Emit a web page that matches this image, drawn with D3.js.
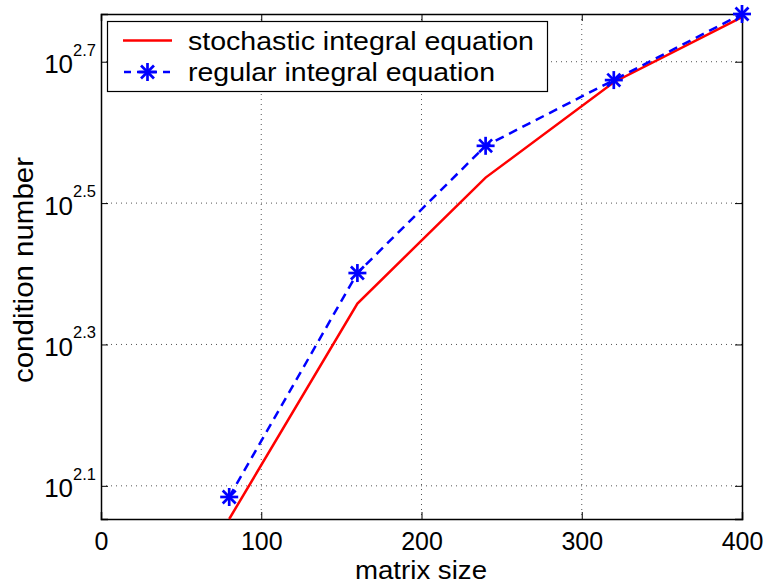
<!DOCTYPE html>
<html>
<head>
<meta charset="utf-8">
<script src="https://cdn.jsdelivr.net/npm/d3@7"></script>
<style>
  body { margin: 0; background: #fff; }
  svg { display: block; font-family: "Liberation Sans", Arial, sans-serif; }
</style>
</head>
<body>
<svg id="chart" width="767" height="585"></svg>
<script>
/* data */
const matrixSizes = [80, 160, 240, 320, 400];
const stochasticCond = [113.0, 228.0, 343.6, 468.8, 579.4];
const regularCond = [121.4, 251.8, 381.1, 472.1, 585.5];
const xTicks = [0, 100, 200, 300, 400];
const yTickExps = [2.1, 2.3, 2.5, 2.7];
const seriesNames = ['stochastic integral equation', 'regular integral equation'];

const W = 767, H = 585;
const margin = { top: 14, right: 25, bottom: 66, left: 101 };
const iw = W - margin.left - margin.right;
const ih = H - margin.top - margin.bottom;

const svg = d3.select('#chart');
const g = svg.append('g').attr('transform', `translate(${margin.left},${margin.top})`);

const x = d3.scaleLinear().domain([0, 400]).range([0, iw]);
const yExtent = d3.extent(stochasticCond.concat(regularCond));
const y = d3.scaleLog().domain(yExtent).range([ih, 0]);

/* Grid lines */
const grid = g.append('g').attr('class', 'grid-lines');
grid.selectAll('.x-grid').data(xTicks.slice(1, -1)).join('line')
    .attr('x1', d => x(d)).attr('x2', d => x(d))
    .attr('y1', 0).attr('y2', ih);
grid.selectAll('.y-grid').data(yTickExps).join('line')
    .attr('x1', 0).attr('x2', iw)
    .attr('y1', d => y(Math.pow(10, d))).attr('y2', d => y(Math.pow(10, d)));
grid.selectAll('line')
    .attr('stroke', '#555')
    .attr('stroke-width', 1)
    .attr('stroke-dasharray', '1,4');

/* Axes, ticks inside on all sides */
const tk = 7;
const yTickVals = yTickExps.map(e => Math.pow(10, e));
const xBottom = g.append('g').attr('transform', `translate(0,${ih})`)
    .call(d3.axisBottom(x).tickValues(xTicks).tickSize(-tk).tickPadding(13));
const xTop = g.append('g')
    .call(d3.axisTop(x).tickValues(xTicks).tickSize(-tk).tickFormat(''));
const yLeft = g.append('g')
    .call(d3.axisLeft(y).tickValues(yTickVals).tickSize(-tk).tickFormat(''));
const yRight = g.append('g').attr('transform', `translate(${iw},0)`)
    .call(d3.axisRight(y).tickValues(yTickVals).tickSize(-tk).tickFormat(''));

for (const ax of [xBottom, xTop, yLeft, yRight]) {
  ax.select('.domain').attr('stroke', '#000').attr('stroke-width', 1.5);
  ax.selectAll('.tick line').attr('stroke', '#000').attr('stroke-width', 1);
}
xBottom.selectAll('.tick text')
    .attr('font-size', 25)
    .attr('font-family', '"Liberation Sans", Arial, sans-serif')
    .attr('fill', '#000');

/* Y tick labels: 10^exp */
const yLab = g.append('g').attr('class', 'y-tick-labels');
yTickExps.forEach(e => {
  const t = yLab.append('text')
      .attr('x', -5)
      .attr('y', y(Math.pow(10, e)) + 11.5)
      .attr('text-anchor', 'end')
      .attr('fill', '#000');
  t.append('tspan').attr('font-size', 26).text('10');
  t.append('tspan').attr('font-size', 16.5).attr('dy', -17.5).text(e.toFixed(1));
});

/* Axis labels */
svg.append('text')
    .attr('x', 421)
    .attr('y', 578.5)
    .attr('text-anchor', 'middle')
    .attr('font-size', 25)
    .attr('textLength', 132)
    .attr('lengthAdjust', 'spacingAndGlyphs')
    .text('matrix size');
svg.append('text')
    .attr('transform', 'translate(33,270) rotate(-90)')
    .attr('text-anchor', 'middle')
    .attr('font-size', 27)
    .attr('textLength', 226)
    .attr('lengthAdjust', 'spacingAndGlyphs')
    .text('condition number');

/* Data lines */
const line = d3.line().x(d => x(d[0])).y(d => y(d[1]));
const stochPts = matrixSizes.map((m, i) => [m, stochasticCond[i]]);
const regPts = matrixSizes.map((m, i) => [m, regularCond[i]]);

const data = g.append('g').attr('class', 'data-container-group');
data.append('path').datum(stochPts)
    .attr('d', line)
    .attr('fill', 'none')
    .attr('stroke', '#ff0000')
    .attr('stroke-width', 2.5);
data.append('path').datum(regPts)
    .attr('d', line)
    .attr('fill', 'none')
    .attr('stroke', '#0000ff')
    .attr('stroke-width', 2.5)
    .attr('stroke-dasharray', '9,6');

function star(sel, r) {
  const d = r * 0.72;
  sel.append('line').attr('x1', -r).attr('x2', r).attr('y1', 0).attr('y2', 0);
  sel.append('line').attr('x1', 0).attr('x2', 0).attr('y1', -r).attr('y2', r);
  sel.append('line').attr('x1', -d).attr('x2', d).attr('y1', -d).attr('y2', d);
  sel.append('line').attr('x1', -d).attr('x2', d).attr('y1', d).attr('y2', -d);
  sel.selectAll('line').attr('stroke', '#0000ff').attr('stroke-width', 2.7);
}
data.selectAll('.marker').data(regPts).join('g')
    .attr('class', 'marker')
    .attr('transform', d => `translate(${x(d[0])},${y(d[1])})`)
    .each(function () { star(d3.select(this), 9); });

/* Legend */
const legendWidths = [346, 307];
const legend = svg.append('g').attr('class', 'legend');
legend.append('rect')
    .attr('x', 107.5).attr('y', 21.5)
    .attr('width', 440).attr('height', 70)
    .attr('fill', '#fff')
    .attr('stroke', '#000')
    .attr('stroke-width', 1.2);
legend.append('line')
    .attr('x1', 123).attr('x2', 172).attr('y1', 40.5).attr('y2', 40.5)
    .attr('stroke', '#ff0000').attr('stroke-width', 2.5);
legend.append('line')
    .attr('x1', 123).attr('x2', 172).attr('y1', 72).attr('y2', 72)
    .attr('stroke', '#0000ff').attr('stroke-width', 2.5)
    .attr('stroke-dasharray', '7,6').attr('stroke-dashoffset', -1);
legend.append('g').attr('transform', 'translate(147.5,72)')
    .call(s => star(s, 9));
seriesNames.forEach((name, i) => {
  legend.append('text')
      .attr('x', 188)
      .attr('y', 49.5 + i * 31)
      .attr('font-size', 26)
      .attr('textLength', legendWidths[i])
      .attr('lengthAdjust', 'spacingAndGlyphs')
      .attr('fill', '#000')
      .text(name);
});
</script>
</body>
</html>
